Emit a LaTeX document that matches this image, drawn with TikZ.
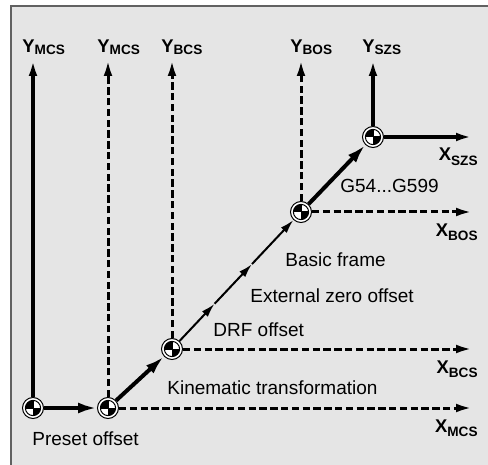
\documentclass[tikz,border=0pt]{standalone}
\usepackage{fontspec}
\setmainfont{Liberation Sans}
\usetikzlibrary{arrows.meta, calc}
\definecolor{panel}{gray}{0.9}
\definecolor{rim}{gray}{0.38}
% axis name with a lowered subscript
\newcommand{\axname}[3][-0.8pt]{#2\raisebox{#1}{\fontsize{6.8}{7}\selectfont #3}}
\tikzset{
zeropt/.style={shape=circle, minimum size=10.5pt, inner sep=0, draw=black, line width=0.5pt, fill=white,
  path picture={
    \coordinate (c) at (path picture bounding box.center);
    \fill[black] (c) -- ++(-3.8pt,0) arc[start angle=180, end angle=90, radius=3.8pt] -- cycle;
    \fill[black] (c) -- ++(3.8pt,0) arc[start angle=0, end angle=-90, radius=3.8pt] -- cycle;
    \draw[black, line width=0.5pt] (c) circle (3.8pt);
    \draw[black, line width=0.5pt] ([xshift=-3.8pt]c) -- ([xshift=3.8pt]c) ([yshift=-3.8pt]c) -- ([yshift=3.8pt]c);
  }},
axline/.style={line width=1.8pt, -{Latex[length=8pt, width=4.4pt]}},
dashaxline/.style={axline, line width=1.5pt, dash pattern=on 3.7pt off 1.7pt},
bigoff/.style={line width=2pt, -{Latex[length=9.5pt, width=5.5pt]}},
smalloff/.style={line width=1pt, -{Latex[length=7pt, width=4pt]}},
axlab/.style={font=\bfseries\fontsize{9.2}{10}\selectfont, inner sep=0},
txt/.style={font=\fontsize{9.5}{11}\selectfont, inner sep=0}}

\begin{document}
\begin{tikzpicture}[x=0.5pt, y=-0.5pt]
\useasboundingbox (0,0) rectangle (488,465);
% grey panel, only its top and left edges are in view
\fill[panel] (11,6) rectangle (496,472);
\draw[rim, line width=1pt] (11,472) |- (496,6);

\coordinate (xend) at (472,0);
\coordinate (xlab) at (478,0);
% zero points with their Y axes
\foreach \px/\py/\sub/\ax [count=\j] in {33/408/MCS/axline, 108/408/MCS/dashaxline, 172/349/BCS/dashaxline, 301/212/BOS/dashaxline, 373/137/SZS/axline}{
  \node [zeropt] (o-\j) at (\px,\py) {};
  \coordinate (yt-\j) at (\px,60);
  \draw [\ax] (o-\j) -- (yt-\j);
  \node [axlab, anchor=base west] (yl-\j) at (\px-11,53) {\axname{Y}{\sub}};
}
% X axes
\foreach \j/\sub/\ax in {2/MCS/dashaxline, 3/BCS/dashaxline, 4/BOS/dashaxline, 5/SZS/axline}{
  \draw [\ax] (o-\j) -- (o-\j -| xend);
  \node [axlab, anchor=base east] (xl-\j) at ($(o-\j -| xlab)+(0,24)$) {\axname[-2.2pt]{X}{\sub}};
}
% offsets between the frames
\coordinate (p-1) at ($(o-3)!0.33!(o-4)$);
\coordinate (p-2) at ($(o-3)!0.62!(o-4)$);
\draw [bigoff] (o-1) -- (o-2);
\draw [bigoff] (o-2) -- (o-3);
\draw [smalloff] (o-3) -- (p-1);
\draw [smalloff] (p-1) -- (p-2);
\draw [smalloff] (p-2) -- (o-4);
\draw [bigoff] (o-4) -- (o-5);

\node [txt, anchor=base west] (preset) at (32,445) {Preset offset};
\node [txt, anchor=base west] (kin) at (167,394) {Kinematic transformation};
\node [txt, anchor=base west] (drf) at (213,336) {DRF offset};
\node [txt, anchor=base west] (ext) at (250,302) {External zero offset};
\node [txt, anchor=base west] (basic) at (285,267) {Basic frame};
\node [txt, anchor=base west] (gcode) at (340,192) {G54...G599};
\end{tikzpicture}
\end{document}
